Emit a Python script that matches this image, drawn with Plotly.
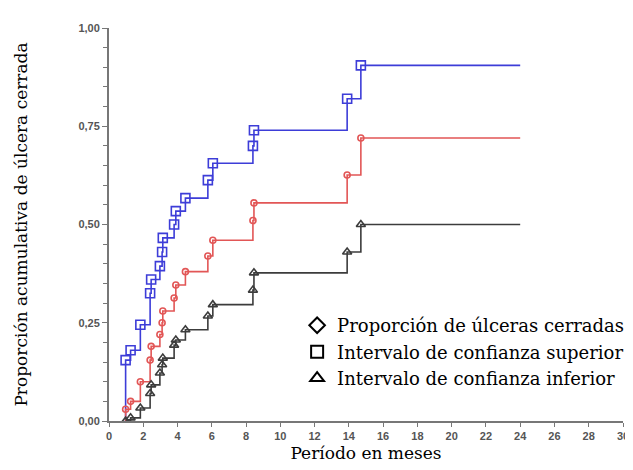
import plotly.graph_objects as go

# Event times (months)
times = [0.97, 1.26, 1.83, 2.4, 2.46, 2.97, 3.1, 3.14, 3.8, 3.9, 4.46, 5.77, 6.06, 8.4, 8.46, 13.9, 14.7]
end_time = 24
start_value = 0.0

# Cumulative proportion of closed ulcers and confidence bounds
proportion = [0.03, 0.05, 0.10, 0.155, 0.19, 0.22, 0.25, 0.28, 0.313, 0.346, 0.38, 0.42, 0.46, 0.51, 0.555, 0.626, 0.72]
upper = [0.155, 0.18, 0.245, 0.325, 0.36, 0.394, 0.43, 0.466, 0.50, 0.534, 0.567, 0.613, 0.656, 0.70, 0.74, 0.82, 0.905]
lower = [0.0, 0.008, 0.033, 0.07, 0.092, 0.122, 0.143, 0.16, 0.193, 0.206, 0.232, 0.267, 0.296, 0.333, 0.377, 0.43, 0.50]

x_ticks = list(range(0, 31, 2))
y_ticks = [0, 0.25, 0.5, 0.75, 1.0]

legend_labels = ["Proporción de úlceras cerradas",
                 "Intervalo de confianza superior",
                 "Intervalo de confianza inferior"]

series = [
    (upper, "#3d3dd8", "square-open", 9),
    (proportion, "#e25656", "circle-open", 6),
    (lower, "#3c3c3c", "triangle-up-open", 8),
]

fig = go.Figure()
for vals, color, sym, size in series:
    xs = [times[0]] + times + [end_time]
    ys = [start_value] + vals + [vals[-1]]
    fig.add_trace(go.Scatter(x=xs, y=ys, mode="lines", line=dict(color=color, width=1.6, shape="hv"),
                             showlegend=False, hoverinfo="skip"))
    fig.add_trace(go.Scatter(x=times, y=vals, mode="markers",
                             marker=dict(symbol=sym, size=size, color=color, line=dict(width=1.6, color=color)),
                             showlegend=False))

for label, sym in zip(legend_labels, ["diamond-open", "square-open", "triangle-up-open"]):
    fig.add_trace(go.Scatter(x=[None], y=[None], mode="markers", name=label,
                             marker=dict(symbol=sym, size=9, color="black", line=dict(width=2.5, color="black"))))

serif = "DejaVu Serif"
tickfont = dict(family="Liberation Sans", size=11, color="#555", weight="bold")
fig.update_layout(
    width=633, height=470,
    margin=dict(l=100, r=16, t=20, b=57),
    plot_bgcolor="white", paper_bgcolor="white",
    separators=",.",
    showlegend=True,
    legend=dict(x=0.366, y=0.29, xanchor="left", yanchor="top", bgcolor="rgba(0,0,0,0)",
                font=dict(family=serif, size=18, color="black"),
                itemwidth=30, tracegroupgap=0, itemsizing="constant"),
    xaxis=dict(range=[0, 30], tickvals=x_ticks, ticks="outside", ticklen=4, tickcolor="#777",
               showline=True, linecolor="#777", linewidth=2, showgrid=False, zeroline=False,
               tickfont=tickfont,
               title=dict(text="Período en meses", font=dict(family=serif, size=17, color="black"), standoff=6)),
    yaxis=dict(range=[0, 1.0], tickvals=y_ticks, tickformat=".2f", ticks="outside", ticklen=5, tickcolor="#777",
               showline=True, linecolor="#777", linewidth=2, showgrid=False, zeroline=False,
               tickfont=tickfont,
               minor=dict(dtick=0.05, ticks="outside", ticklen=4, tickcolor="#777"),
               title=dict(text="Proporción acumulativa de úlcera cerrada",
                          font=dict(family=serif, size=17, color="black"), standoff=46)),
)

fig.write_html("out.html")
